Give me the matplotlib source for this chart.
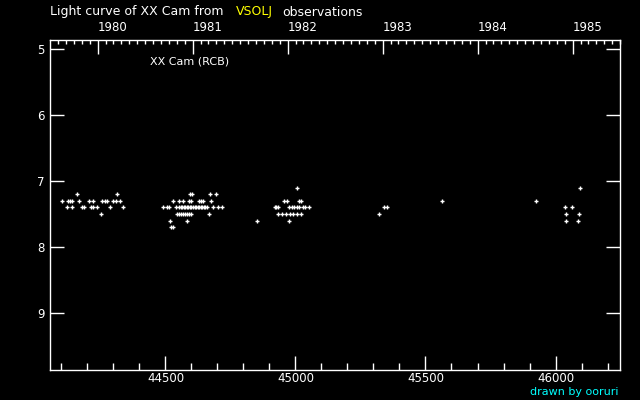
import datetime as dt
import matplotlib
matplotlib.use("Agg")
import matplotlib.pyplot as plt

# Observations: JD - 2400000 and visual magnitude
jd_72 = [44161, 44312, 44595, 44603, 44672, 44695]
jd_73 = [44102, 44125, 44133, 44140, 44167, 44207, 44220, 44257, 44268, 44276,
         44297, 44310, 44325, 44530, 44552, 44567, 44592, 44599, 44628, 44636,
         44645, 44676, 44956, 44966, 45015, 45021, 45565, 45926]
jd_74 = [44122, 44142, 44178, 44188, 44212, 44222, 44235, 44287, 44335,
         44492, 44506, 44515, 44540, 44552, 44558, 44564, 44570, 44576, 44582,
         44588, 44594, 44600, 44606, 44612, 44618, 44624, 44630, 44636, 44642,
         44648, 44652, 44658, 44682, 44703, 44718,
         44921, 44926, 44933, 44975, 44985, 44995, 45005, 45015, 45028, 45037,
         45053, 45342, 45353, 46038, 46065]
jd_75 = [44251, 44545, 44552, 44560, 44568, 44576, 44584, 44592, 44600, 44668,
         44933, 44947, 44963, 44979, 44989, 45005, 45020, 45322, 46042, 46092]
jd_76 = [44518, 44582, 44853, 44976, 46042, 46085]
jd_77 = [44522, 44530]
jd_71 = [45005, 46095]

groups = [(jd_71, 7.1), (jd_72, 7.2), (jd_73, 7.3), (jd_74, 7.4),
          (jd_75, 7.5), (jd_76, 7.6), (jd_77, 7.7)]

xlim = (44056, 46248)
ylim = (9.864, 4.864)
years = [1980, 1981, 1982, 1983, 1984, 1985]


def to_jd(d):
    return (dt.datetime(d.year, d.month, d.day) - dt.datetime(1970, 1, 1)).days + 2440587.5 - 2400000


fig = plt.figure(figsize=(6.4, 4.0), dpi=100, facecolor="black")
ax = fig.add_axes([50 / 640, 30 / 400, 570 / 640, 330 / 400])
ax.set_facecolor("black")

for xs, m in groups:
    ax.plot(xs, [m] * len(xs), linestyle="none", marker="+", color="white",
            markersize=3.5, markeredgewidth=1.0)

ax.set_xlim(*xlim)
ax.set_ylim(*ylim)

for s in ax.spines.values():
    s.set_color("white")
    s.set_linewidth(1.0)

ax.set_xticks([44500, 45000, 45500, 46000])
ax.set_xticks(range(44100, 46201, 100), minor=True)
ax.set_yticks([5, 6, 7, 8, 9])
ax.tick_params(axis="x", which="major", direction="in", length=10, width=1,
               colors="white", labelsize=8.5, pad=1.5)
ax.tick_params(axis="x", which="minor", direction="in", length=5, width=1, colors="white")
ax.tick_params(axis="y", which="major", direction="in", length=10, width=1,
               colors="white", labelsize=8.5, right=True, pad=4)
ax.tick_params(axis="y", which="minor", left=False, right=False)

# top axis in calendar years
top = ax.twiny()
top.set_xlim(*xlim)
top.set_xticks([to_jd(dt.date(y, 1, 1)) for y in years])
top.set_xticklabels([str(y) for y in years], ha="left")
months = []
for y in range(1979, 1986):
    for mo in range(1, 13):
        v = to_jd(dt.date(y, mo, 1))
        if xlim[0] <= v <= xlim[1] and mo != 1:
            months.append(v)
top.set_xticks(months, minor=True)
top.tick_params(axis="x", which="major", direction="in", length=10, width=1,
                colors="white", labelsize=8.5, pad=4)
top.tick_params(axis="x", which="minor", direction="in", length=3, width=1, colors="white")
for s in top.spines.values():
    s.set_visible(False)

fig.text(50 / 640, 1 - 12 / 400, "Light curve of XX Cam from", color="white",
         fontsize=9, va="center", ha="left")
fig.text(236 / 640, 1 - 12 / 400, "VSOLJ", color="yellow", fontsize=9, va="center", ha="left")
fig.text(282 / 640, 1 - 12 / 400, "observations", color="white", fontsize=9,
         va="center", ha="left")
fig.text(150 / 640, 1 - 61 / 400, "XX Cam (RCB)", color="white", fontsize=8,
         va="center", ha="left")
fig.text(618 / 640, 1 - 392 / 400, "drawn by ooruri", color="cyan", fontsize=8,
         va="center", ha="right")

fig.savefig("out.png", dpi=100, facecolor="black")
